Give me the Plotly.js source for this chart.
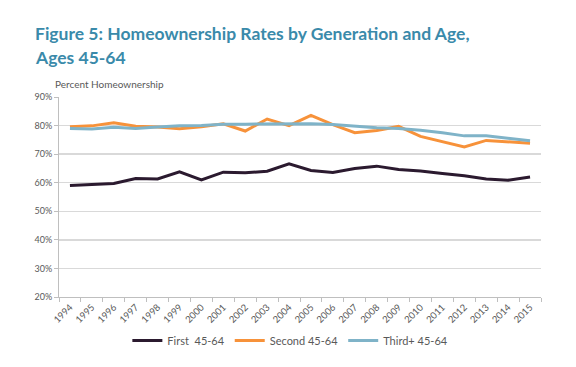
<!DOCTYPE html>
<html>
<head>
<meta charset="utf-8">
<script src="https://cdn.plot.ly/plotly-3.0.1.min.js"></script>
<style>html,body{margin:0;padding:0;background:#fff;}#chart{width:576px;height:367px;}</style>
</head>
<body>
<div id="chart"></div>
<script>
const years = ['1994','1995','1996','1997','1998','1999','2000','2001','2002','2003','2004','2005','2006','2007','2008','2009','2010','2011','2012','2013','2014','2015'];
const first = [59.0,59.3,59.7,61.5,61.3,63.8,61.0,63.7,63.5,64.0,66.6,64.3,63.6,65.0,65.8,64.6,64.1,63.2,62.4,61.3,60.9,62.0];
const second = [79.6,79.9,81.0,79.8,79.5,78.9,79.6,80.6,78.1,82.3,80.0,83.6,80.3,77.5,78.3,79.7,76.2,74.4,72.5,74.8,74.4,73.8];
const third = [79.0,78.8,79.4,79.0,79.5,79.9,80.0,80.5,80.5,80.6,80.6,80.6,80.4,79.8,79.2,79.0,78.4,77.5,76.4,76.4,75.6,74.7];
const yTicks = [20,30,40,50,60,70,80,90];
const yTickText = yTicks.map(v => v + '%');

const traces = [
  {x: years, y: first, name: 'First  45-64', type: 'scatter', mode: 'lines', line: {color: '#2b1a2f', width: 3}},
  {x: years, y: second, name: 'Second 45-64', type: 'scatter', mode: 'lines', line: {color: '#f7923a', width: 3}},
  {x: years, y: third, name: 'Third+ 45-64', type: 'scatter', mode: 'lines', line: {color: '#7fb3c8', width: 3}}
];
const layout = {
  width: 576, height: 367,
  margin: {l: 59, r: 35, t: 97, b: 63},
  paper_bgcolor: '#fff', plot_bgcolor: '#fff',
  font: {family: 'Lato, sans-serif', color: '#595959', size: 9},
  xaxis: {type: 'category', tickson: 'boundaries', ticks: 'outside', ticklen: 4, tickcolor: '#bfbfbf', showline: true, linecolor: '#bfbfbf', linewidth: 1, showgrid: false, tickangle: -45, tickfont: {size: 9.5, color: '#595959'}, range: [-0.5, 21.5], fixedrange: true},
  yaxis: {range: [20, 90], tickvals: yTicks, ticktext: yTickText, ticks: 'outside', ticklen: 4, tickcolor: '#bfbfbf', showline: true, linecolor: '#bfbfbf', linewidth: 1, gridcolor: '#d9d9d9', gridwidth: 1.5, zeroline: false, tickfont: {size: 9, color: '#595959'}, fixedrange: true},
  showlegend: true,
  legend: {orientation: 'h', x: 0.48, xanchor: 'center', y: -0.217, yanchor: 'middle', font: {size: 11, color: '#595959'}, itemwidth: 30, tracegroupgap: 0},
  annotations: [
    {text: '<b>Figure 5: Homeownership Rates by Generation and Age,</b>', xref: 'paper', yref: 'paper', x: -26/482, y: 1 + (97-31)/207, xanchor: 'left', yanchor: 'middle', showarrow: false, font: {family: 'Lato, sans-serif', size: 17.5, color: '#3a8aaa'}},
    {text: '<b>Ages 45-64</b>', xref: 'paper', yref: 'paper', x: -26/482, y: 1 + (97-56)/207, xanchor: 'left', yanchor: 'middle', showarrow: false, font: {family: 'Lato, sans-serif', size: 17.5, color: '#3a8aaa'}},
    {text: 'Percent Homeownership', xref: 'paper', yref: 'paper', x: -6/482, y: 1, xanchor: 'left', yanchor: 'bottom', yshift: 5, showarrow: false, font: {size: 10, color: '#595959'}}
  ]
};
Plotly.newPlot('chart', traces, layout, {displayModeBar: false, staticPlot: true});
</script>
</body>
</html>
